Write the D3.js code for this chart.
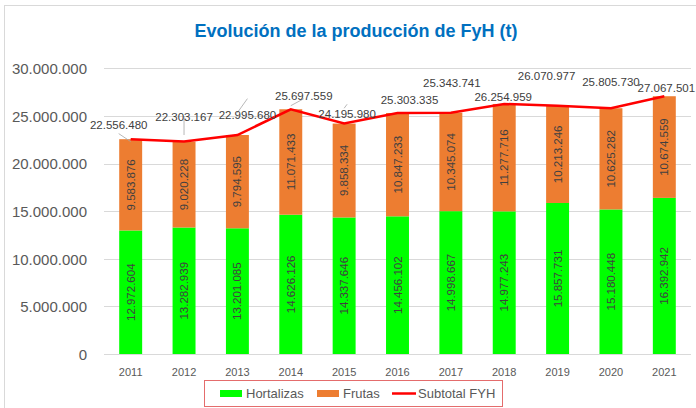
<!DOCTYPE html>
<html>
<head>
<meta charset="utf-8">
<script src="https://cdn.jsdelivr.net/npm/d3@7"></script>
<style>
  html, body { margin: 0; padding: 0; background: #fff; }
  svg text { font-family: "Liberation Sans", Arial, sans-serif; }
</style>
</head>
<body>
<div id="chart"></div>
<script>
// data
const years = ['2011', '2012', '2013', '2014', '2015', '2016', '2017', '2018', '2019', '2020', '2021'];
const hortalizas = [12972604, 13282939, 13201085, 14626126, 14337646, 14456102, 14998667, 14977243, 15857731, 15180448, 16392942];
const frutas = [9583876, 9020228, 9794595, 11071433, 9858334, 10847233, 10345074, 11277716, 10213246, 10625282, 10674559];
const subtotal = [22556480, 22303167, 22995680, 25697559, 24195980, 25303335, 25343741, 26254959, 26070977, 25805730, 27067501];
const yTicks = [0, 5000000, 10000000, 15000000, 20000000, 25000000, 30000000];
// where the subtotal labels sit relative to their point (dx, dy)
const totalLabelShift = [[-12, -14], [0, -25], [10, -20], [13, -13], [3, -10], [12, -13], [1, -30], [-1, -7], [-11, -30], [0, -26], [2, -8]];

const W = 696, H = 408;
const margin = {top: 68, right: 5, bottom: 54, left: 104};

const es = d3.formatLocale({decimal: ',', thousands: '.', grouping: [3], currency: ['', '']});
const fmt = es.format(',d');

const svg = d3.select('#chart').append('svg')
  .attr('width', W)
  .attr('height', H);

// outer frame
svg.append('rect')
  .attr('x', 4.5).attr('y', 5.5)
  .attr('width', W + 10).attr('height', H + 10)
  .attr('fill', '#fff')
  .attr('stroke', '#d9d9d9');

svg.append('text')
  .attr('x', 356).attr('y', 37)
  .attr('text-anchor', 'middle')
  .attr('fill', '#0070c0')
  .style('font-weight', 'bold')
  .style('font-size', '18px')
  .text('Evolución de la producción de FyH (t)');

const x = d3.scaleBand()
  .domain(years)
  .range([margin.left, W - margin.right])
  .paddingInner(0.57)
  .paddingOuter(0.285);

const y = d3.scaleLinear()
  .domain([0, 30000000])
  .range([354, 68.3]);

// gridlines
svg.append('g')
  .selectAll('line')
  .data(yTicks)
  .join('line')
  .attr('x1', margin.left).attr('x2', W - margin.right)
  .attr('y1', d => Math.round(y(d)) + 0.5).attr('y2', d => Math.round(y(d)) + 0.5)
  .attr('stroke', '#d9d9d9');

const yAxis = svg.append('g')
  .attr('transform', `translate(${margin.left - 14},0)`)
  .call(d3.axisLeft(y).tickValues(yTicks).tickFormat(fmt).tickSize(0));
yAxis.select('.domain').remove();
yAxis.selectAll('text')
  .attr('fill', '#595959')
  .style('font-size', '15px')
  .attr('dy', '0.35em');

const xAxis = svg.append('g')
  .attr('transform', `translate(0,${y(0)})`)
  .call(d3.axisBottom(x).tickSize(0));
xAxis.select('.domain').remove();
xAxis.selectAll('text')
  .attr('fill', '#595959')
  .style('font-size', '11px')
  .attr('dy', '1.7em');

// stacked bars
const rows = years.map((yr, i) => ({year: yr, Hortalizas: hortalizas[i], Frutas: frutas[i]}));
const stack = d3.stack().keys(['Hortalizas', 'Frutas'])(rows);
const colors = {Hortalizas: '#00ff00', Frutas: '#ed7d31'};

const layer = svg.append('g')
  .selectAll('g')
  .data(stack)
  .join('g')
  .attr('fill', d => colors[d.key]);

layer.selectAll('rect')
  .data(d => d)
  .join('rect')
  .attr('x', d => x(d.data.year))
  .attr('width', x.bandwidth())
  .attr('y', d => y(d[1]))
  .attr('height', d => y(d[0]) - y(d[1]));

// labels inside the segments
layer.selectAll('text')
  .data(d => d)
  .join('text')
  .attr('transform', d => `translate(${x(d.data.year) + x.bandwidth() / 2 + 4},${(y(d[0]) + y(d[1])) / 2}) rotate(-90)`)
  .attr('text-anchor', 'middle')
  .attr('fill', '#404040')
  .style('font-size', '11.5px')
  .text(d => fmt(d[1] - d[0]));

// subtotal line
const cx = (d, i) => x(years[i]) + x.bandwidth() / 2;
const line = d3.line()
  .x((d, i) => cx(d, i))
  .y(d => y(d));

// leader lines for labels pushed far from their point
svg.append('g')
  .selectAll('line')
  .data(subtotal)
  .join('line')
  .filter((d, i) => Math.abs(totalLabelShift[i][1]) > 18)
  .attr('x1', (d, i) => cx(d, i) + totalLabelShift[i][0])
  .attr('y1', (d, i) => y(d) + totalLabelShift[i][1] + 6)
  .attr('x2', (d, i) => cx(d, i))
  .attr('y2', d => y(d))
  .attr('stroke', '#a6a6a6')
  .attr('stroke-width', 0.8);

svg.append('path')
  .datum(subtotal)
  .attr('d', line)
  .attr('fill', 'none')
  .attr('stroke', '#ff0000')
  .attr('stroke-width', 2.5);

svg.append('g')
  .selectAll('text')
  .data(subtotal)
  .join('text')
  .attr('x', (d, i) => cx(d, i) + totalLabelShift[i][0])
  .attr('y', (d, i) => y(d) + totalLabelShift[i][1])
  .attr('dy', '0.35em')
  .attr('text-anchor', 'middle')
  .attr('fill', '#404040')
  .style('font-size', '11.5px')
  .text(d => fmt(d));

// legend
const legend = svg.append('g');
legend.append('rect')
  .attr('x', 204.5).attr('y', 380.5)
  .attr('width', 298).attr('height', 26)
  .attr('fill', '#fff')
  .attr('stroke', '#e46c6c');

const legendItems = [
  {name: 'Hortalizas', color: colors.Hortalizas, type: 'box', x: 220},
  {name: 'Frutas', color: colors.Frutas, type: 'box', x: 317},
  {name: 'Subtotal FYH', color: '#ff0000', type: 'line', x: 392}
];
const li = legend.selectAll('g.item')
  .data(legendItems)
  .join('g')
  .attr('class', 'item')
  .attr('transform', d => `translate(${d.x},393.5)`);
li.filter(d => d.type === 'box').append('rect')
  .attr('x', 0).attr('y', -3.5)
  .attr('width', 22).attr('height', 7)
  .attr('fill', d => d.color);
li.filter(d => d.type === 'line').append('line')
  .attr('x1', 0).attr('x2', 24)
  .attr('stroke', d => d.color)
  .attr('stroke-width', 2.5);
li.append('text')
  .attr('x', 26)
  .attr('dy', '0.35em')
  .attr('fill', '#595959')
  .style('font-size', '13px')
  .text(d => d.name);
</script>
</body>
</html>
